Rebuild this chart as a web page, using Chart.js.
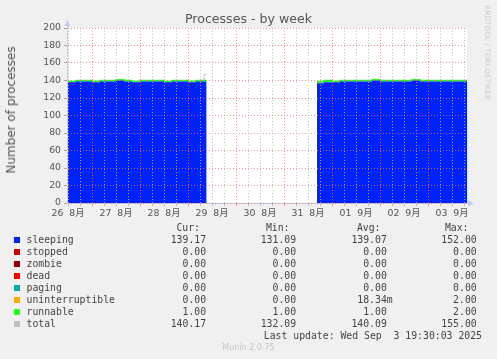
<!DOCTYPE html>
<html>
<head>
<meta charset="utf-8">
<script src="https://cdn.jsdelivr.net/npm/chart.js"></script>
<style>
  body { margin: 0; background: #f0f0f0; }
  #wrap { position: relative; width: 497px; height: 359px; overflow: hidden; }
  #grafico { position: absolute; left: 0; top: 0; }
  .txt { position: absolute; white-space: pre; font-family: 'DejaVu Sans Mono', monospace; font-size: 9.8px; color: #444; line-height: 12px; }
  .sq { position: absolute; width: 6px; height: 6px; }
</style>
</head>
<body>
<div id="wrap">
  <canvas id="grafico" width="497" height="359"></canvas>
</div>
<script>
// horas desde 26 ago 00:00 (null = sem dados)
const horas = [11.5, 16, 20, 24, 28, 32, 36, 40, 44, 48, 52, 56, 60, 64, 68, 72, 76, 80, 81.3,
  100,
  136.4, 140, 144, 148, 152, 156, 160, 164, 168, 172, 176, 180, 184, 188, 192, 196, 200, 204, 208, 211.5];

const sleeping = [139, 138, 139, 139, 138, 139, 139, 140, 139, 138, 139, 139, 139, 138, 139, 139, 138, 139, 139,
  null,
  137, 137, 138, 138, 139, 139, 139, 139, 140, 139, 139, 139, 139, 140, 139, 139, 139, 139, 139, 139];
const stopped = [0, 0, 0, 0, 0, 0, 0, 0, 0, 0, 0, 0, 0, 0, 0, 0, 0, 0, 0,
  null,
  0, 0, 0, 0, 0, 0, 0, 0, 0, 0, 0, 0, 0, 0, 0, 0, 0, 0, 0, 0];
const zombie = [0, 0, 0, 0, 0, 0, 0, 0, 0, 0, 0, 0, 0, 0, 0, 0, 0, 0, 0,
  null,
  0, 0, 0, 0, 0, 0, 0, 0, 0, 0, 0, 0, 0, 0, 0, 0, 0, 0, 0, 0];
const dead = [0, 0, 0, 0, 0, 0, 0, 0, 0, 0, 0, 0, 0, 0, 0, 0, 0, 0, 0,
  null,
  0, 0, 0, 0, 0, 0, 0, 0, 0, 0, 0, 0, 0, 0, 0, 0, 0, 0, 0, 0];
const paging = [0, 0, 0, 0, 0, 0, 0, 0, 0, 0, 0, 0, 0, 0, 0, 0, 0, 0, 0,
  null,
  0, 0, 0, 0, 0, 0, 0, 0, 0, 0, 0, 0, 0, 0, 0, 0, 0, 0, 0, 0];
const uninterruptible = [0, 0, 0, 0, 0, 0, 0, 0, 0, 0, 0, 0, 0, 0, 0, 0, 0, 0, 0,
  null,
  0, 0, 0, 0, 0, 0, 0, 0, 0, 0, 0, 0, 0, 0, 0, 0, 0, 0, 0, 0];
const runnable = [1, 1, 1, 1, 1, 1, 1, 1, 1, 1, 1, 1, 1, 1, 1, 1, 1, 1, 1,
  null,
  2, 2, 2, 1, 1, 1, 1, 1, 1, 1, 1, 1, 1, 1, 1, 1, 1, 1, 1, 1];
const total = [140, 139, 140, 140, 139, 140, 140, 141, 140, 139, 140, 140, 140, 139, 140, 140, 139, 140, 147,
  null,
  139, 139, 140, 139, 140, 140, 140, 140, 141, 140, 140, 140, 140, 141, 140, 140, 140, 140, 140, 140];

const horasRotulo = [12, 36, 60, 84, 108, 132, 156, 180, 204];
const rotulosDia = ['26  8月', '27  8月', '28  8月', '29  8月', '30  8月', '31  8月', '01  9月', '02  9月', '03  9月'];

const nomes = ['sleeping', 'stopped', 'zombie', 'dead', 'paging', 'uninterruptible', 'runnable', 'total'];
const cores = ['#0022ff', '#cc0000', '#990000', '#ff0000', '#00aaaa', '#ffaa00', '#22ff22', '#c0c0c0'];
const valCur = ['139.17 ', '0.00 ', '0.00 ', '0.00 ', '0.00 ', '0.00 ', '1.00 ', '140.17 '];
const valMin = ['131.09 ', '0.00 ', '0.00 ', '0.00 ', '0.00 ', '0.00 ', '1.00 ', '132.09 '];
const valAvg = ['139.07 ', '0.00 ', '0.00 ', '0.00 ', '0.00 ', '18.34m', '1.00 ', '140.09 '];
const valMax = ['152.00 ', '0.00 ', '0.00 ', '0.00 ', '0.00 ', '2.00 ', '2.00 ', '155.00 '];

const series = [sleeping, stopped, zombie, dead, paging, uninterruptible, runnable];

const wrap = document.getElementById('wrap');

function addTexto(txt, opts, cls) {
    const d = document.createElement('div');
    d.className = cls || 'txt';
    d.textContent = txt;
    Object.assign(d.style, opts);
    wrap.appendChild(d);
    return d;
}

// titulo e textos laterais
addTexto('Processes - by week', {
    left: '0px', width: '497px', textAlign: 'center', top: '11px',
    fontFamily: "'DejaVu Sans', sans-serif", fontSize: '12.6px', color: '#555', lineHeight: '16px'
});
addTexto('Number of processes', {
    left: '11px', top: '110px', transform: 'translate(-50%, -50%) rotate(-90deg)',
    fontFamily: "'DejaVu Sans', sans-serif", fontSize: '12px', color: '#555', lineHeight: '14px'
});
addTexto('RRDTOOL / TOBI OETIKER', {
    left: '483px', top: '5px', writingMode: 'vertical-rl',
    fontFamily: "'DejaVu Sans', sans-serif", fontSize: '7.4px', color: '#cccccc', lineHeight: '9px'
});
addTexto('Munin 2.0.75', {
    left: '0px', width: '497px', textAlign: 'center', top: '343px',
    fontFamily: "'DejaVu Sans', sans-serif", fontSize: '8px', color: '#c4c4c4', lineHeight: '10px'
});

// legenda estilo rrdtool
const yCab = 227.7;
const yLinha0 = 239.7;
const dirCol = [212, 302, 392.7, 482.6];
const cab = ['Cur:', 'Min:', 'Avg:', 'Max:'];
const dirCab = [200, 289.5, 380.5, 468.5];
cab.forEach((c, i) => addTexto(c, { right: (497 - dirCab[i]) + 'px', top: (yCab - 6) + 'px' }));
nomes.forEach((n, i) => {
    const yc = yLinha0 + 12 * i;
    const sq = document.createElement('div');
    sq.className = 'sq';
    sq.style.left = '14px';
    sq.style.top = (yc - 3) + 'px';
    sq.style.background = cores[i];
    wrap.appendChild(sq);
    addTexto(n, { left: '26.5px', top: (yc - 6) + 'px' });
    [valCur, valMin, valAvg, valMax].forEach((col, j) => {
        addTexto(col[i], { right: (497 - dirCol[j]) + 'px', top: (yc - 6) + 'px' });
    });
});
addTexto('Last update: Wed Sep  3 19:30:03 2025', { right: (497 - 482) + 'px', top: (yLinha0 + 12 * 8 - 6) + 'px' });

const pontos = arr => arr.map((v, i) => ({ x: horas[i], y: v }));

const datasets = series.map((s, i) => ({
    label: nomes[i],
    data: pontos(s),
    backgroundColor: cores[i],
    borderColor: i === 6 ? cores[i] : 'rgba(0,0,0,0)',
    borderWidth: i === 6 ? 1.5 : 0,
    fill: i === 0 ? 'origin' : '-1',
    stepped: 'after',
    stack: 'proc',
    pointRadius: 0
}));
datasets.push({
    label: 'total',
    data: pontos(total),
    borderColor: cores[7],
    borderWidth: 1,
    fill: false,
    stepped: 'after',
    stack: 'total',
    pointRadius: 0
});

const fundo = {
    id: 'fundo',
    beforeDraw(chart) {
        const a = chart.chartArea;
        const ctx = chart.ctx;
        ctx.save();
        ctx.fillStyle = '#ffffff';
        ctx.fillRect(a.left, a.top, a.right - a.left, a.bottom - a.top);
        ctx.restore();
    },
    afterDraw(chart) {
        const a = chart.chartArea;
        const ctx = chart.ctx;
        ctx.save();
        ctx.strokeStyle = '#c8cbe8';
        ctx.fillStyle = '#c3cbf5';
        ctx.lineWidth = 1;
        ctx.beginPath();
        ctx.moveTo(a.left + 0.5, a.top);
        ctx.lineTo(a.left + 0.5, a.top - 3);
        ctx.moveTo(a.right, a.bottom + 0.5);
        ctx.lineTo(a.right + 2, a.bottom + 0.5);
        ctx.stroke();
        ctx.beginPath();
        ctx.moveTo(a.left - 2.5, a.top - 2);
        ctx.lineTo(a.left + 3.5, a.top - 2);
        ctx.lineTo(a.left + 0.5, a.top - 8);
        ctx.closePath();
        ctx.fill();
        ctx.beginPath();
        ctx.moveTo(a.right + 1, a.bottom - 2.5);
        ctx.lineTo(a.right + 1, a.bottom + 3.5);
        ctx.lineTo(a.right + 7, a.bottom + 0.5);
        ctx.closePath();
        ctx.fill();
        ctx.restore();
    }
};

const corGrade = (maior) => maior ? 'rgba(222,120,120,0.75)' : 'rgba(180,180,180,0.8)';

new Chart(document.getElementById('grafico').getContext('2d'), {
    type: 'line',
    data: { datasets },
    options: {
        responsive: false,
        animation: false,
        layout: { padding: { top: 28, right: 30, bottom: 136, left: 0 } },
        plugins: {
            legend: { display: false },
            title: { display: false },
            tooltip: { enabled: false }
        },
        scales: {
            x: {
                type: 'linear',
                min: 11.5,
                max: 211.5,
                afterBuildTicks: s => {
                    // grade a cada 6 horas
                    const t = [];
                    for (let h = 12; h <= 210; h += 6) t.push({ value: h });
                    s.ticks = t;
                },
                afterFit: s => { s.height = 20; },
                grid: {
                    z: 1,
                    color: c => corGrade(c.tick && c.tick.value % 24 === 0),
                    tickColor: c => corGrade(c.tick && c.tick.value % 24 === 0),
                    tickLength: 3
                },
                border: { z: 1, color: '#c8cbe8', dash: [1, 2] },
                ticks: {
                    autoSkip: false,
                    maxRotation: 0,
                    padding: 2,
                    color: '#555',
                    font: { family: "'DejaVu Sans', 'Noto Sans CJK JP', sans-serif", size: 9.3 },
                    callback: v => {
                        const i = horasRotulo.indexOf(v);
                        return i >= 0 ? rotulosDia[i] : '';
                    }
                }
            },
            y: {
                stacked: true,
                min: 0,
                max: 200,
                afterFit: s => { s.width = 67; },
                grid: {
                    z: 1,
                    color: c => corGrade(c.tick && c.tick.value % 20 === 0),
                    tickColor: 'rgba(150,150,150,0.8)',
                    tickLength: 3
                },
                border: { z: 1, color: '#c8cbe8', dash: [1, 2] },
                ticks: {
                    stepSize: 10,
                    padding: 3,
                    color: '#555',
                    font: { family: "'DejaVu Sans', sans-serif", size: 9.3 },
                    callback: v => v % 20 === 0 ? v : ''
                }
            }
        }
    },
    plugins: [fundo]
});
</script>
</body>
</html>
